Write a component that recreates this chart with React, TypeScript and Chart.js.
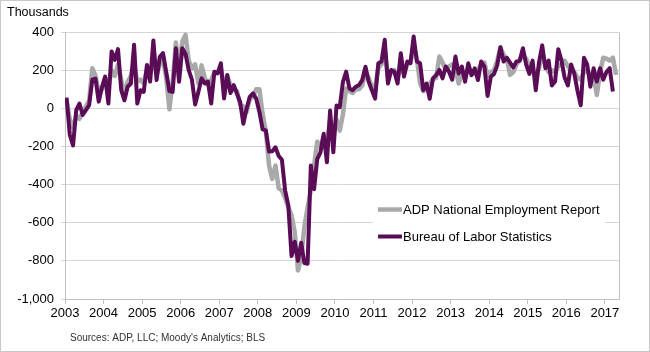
import React, { useEffect, useRef } from "react";
import { Chart, registerables } from "chart.js";

Chart.register(...registerables);

// ---------- data ----------
const yearLabels = ["2003", "2004", "2005", "2006", "2007", "2008", "2009", "2010", "2011", "2012", "2013", "2014", "2015", "2016", "2017"];
const yearTickMonths = [0, 12, 24, 36, 48, 60, 72, 84, 96, 108, 120, 132, 144, 156, 168];

// ADP National Employment Report, monthly change (thousands), Jan 2003 - Apr 2017
const adpValues = [
  40, -60, -100, -40, -55, -20, 10, 40, 210, 170, 80, 100,
  160, 110, 200, 170, 230, 150, 70, 140, 170, 230, 140, 150,
  130, 200, 180, 260, 180, 230, 260, 160, -5, 140, 345, 220,
  350, 385, 250, 210, 230, 130, 225, 160, 120, 150, 190, 190,
  210, 110, 170, 120, 100, 90, 20, 10, -20, 50, 60, 100,
  100, -30, -120, -300, -370, -300, -420, -430, -470, -520, -560, -650,
  -850, -780, -620, -520, -430, -300, -175, -200, -150, -180, -60, -150,
  -60, -117, -30, 104, 90, 80, 100, 100, 120, 190, 160, 110,
  110, 210, 230, 300, 160, 190, 200, 160, 220, 180, 230, 240,
  330, 260, 130, 90, 100, 130, 150, 160, 271, 240, 200, 220,
  230, 210, 130, 180, 170, 200, 190, 180, 200, 230, 240, 170,
  190, 200, 250, 320, 280, 260, 175, 190, 230, 250, 280, 260,
  220, 200, 180, 210, 280, 230, 190, 200, 190, 220, 230, 250,
  220, 200, 190, 160, 150, 190, 200, 170, 170, 70, 190, 265,
  260, 250, 265, 175,
];

// Bureau of Labor Statistics, private payrolls monthly change (thousands), Jan 2003 - Mar 2017
const blsValues = [
  56, -140, -195, -10, 25, -35, -10, 16, 150, 155, 35, 110,
  166, 25, 298, 254, 310, 95, 42, 113, 130, 333, 25, 95,
  86, 227, 140, 356, 148, 270, 289, 190, 90, 86, 315, 139,
  315, 285, 200, 150, 20, 86, 157, 130, 140, 25, 192, 183,
  236, 51, 174, 80, 122, 78, 33, -81, -2, 60, 78, 51,
  -19, -111, -116, -227, -225, -205, -250, -270, -430, -510, -775, -700,
  -800, -705, -812, -815, -300, -425, -266, -231, -134, -283, -12, -231,
  14, 5, 139, 192, 104, 95, 113, 122, 148, 218, 139, 95,
  51, 236, 245, 359, 130, 201, 192, 130, 289, 166, 245, 236,
  377, 245, 236, 95, 130, 50, 157, 174, 201, 157, 219, 192,
  150, 271, 183, 219, 139, 236, 174, 210, 148, 245, 219, 65,
  165, 180, 225, 320, 245, 265, 240, 215, 245, 250, 315, 230,
  180, 250, 95, 240, 330, 210, 250, 120, 140, 310, 250, 160,
  120, 230, 180, 90, 16, 265, 230, 113, 210, 140, 210, 150,
  190, 210, 88,
];

const seriesNames = ["ADP National Employment Report", "Bureau of Labor Statistics"];
const seriesColors = ["#a9a9a9", "#5a0c57"];
const unitLabel = "Thousands";
const sourceNote = "Sources: ADP, LLC; Moody's Analytics; BLS";

const FONT = "'Liberation Sans', Arial, Helvetica, sans-serif";

const decorPlugin = {
  id: "decor",
  afterDraw(chart: any) {
    const { ctx, chartArea } = chart;
    ctx.save();
    // right border of plot area
    ctx.strokeStyle = "#bfbfbf";
    ctx.lineWidth = 1;
    const rx = Math.round(chartArea.right) + 0.5;
    ctx.beginPath();
    ctx.moveTo(rx, Math.round(chartArea.top) + 0.5);
    ctx.lineTo(rx, Math.round(chartArea.bottom) + 0.5);
    ctx.stroke();

    // legend inside plot
    ctx.fillStyle = "#ffffff";
    ctx.fillRect(373, 197, 232, 52);
    ctx.font = `13px ${FONT}`;
    ctx.textBaseline = "middle";
    ctx.textAlign = "left";
    chart.data.datasets.forEach((ds: any, k: number) => {
      const y = 209.5 + k * 27;
      ctx.strokeStyle = ds.borderColor;
      ctx.lineWidth = ds.borderWidth;
      ctx.lineCap = "butt";
      ctx.beginPath();
      ctx.moveTo(378, y);
      ctx.lineTo(402, y);
      ctx.stroke();
      ctx.fillStyle = "#000000";
      ctx.fillText(ds.label, 403, y + 0.5);
    });

    // unit label and source note
    ctx.fillStyle = "#000000";
    ctx.font = `12.5px ${FONT}`;
    ctx.textBaseline = "middle";
    ctx.fillText(unitLabel, 7, 13);
    ctx.fillStyle = "#333333";
    ctx.font = `10px ${FONT}`;
    ctx.fillText(sourceNote, 70, 338);

    // outer frame
    ctx.strokeStyle = "#c8c8c8";
    ctx.lineWidth = 1;
    ctx.strokeRect(0.5, 0.5, chart.width - 1, chart.height - 1);
    ctx.restore();
  },
};

export default function App() {
  const canvasRef = useRef<HTMLCanvasElement | null>(null);

  useEffect(() => {
    const canvas = canvasRef.current;
    if (!canvas) return;
    const chart = new Chart(canvas, {
      type: "line",
      data: {
        datasets: [
          {
            label: seriesNames[0],
            data: adpValues.map((v, i) => ({ x: i + 0.5, y: v })),
            borderColor: seriesColors[0],
            backgroundColor: seriesColors[0],
            borderWidth: 4.5,
            pointRadius: 0,
            tension: 0,
            borderJoinStyle: "round",
            order: 2,
          },
          {
            label: seriesNames[1],
            data: blsValues.map((v, i) => ({ x: i + 0.5, y: v })),
            borderColor: seriesColors[1],
            backgroundColor: seriesColors[1],
            borderWidth: 4,
            pointRadius: 0,
            tension: 0,
            borderJoinStyle: "round",
            order: 1,
          },
        ],
      },
      options: {
        responsive: false,
        animation: false,
        devicePixelRatio: 1,
        layout: { padding: { top: 32, right: 31, left: 0, bottom: 0 } },
        plugins: {
          legend: { display: false },
          tooltip: { enabled: false },
          title: { display: false },
        },
        scales: {
          x: {
            type: "linear",
            min: 0,
            max: 172.4,
            afterBuildTicks: (scale: any) => {
              scale.ticks = yearTickMonths.map((v) => ({ value: v }));
            },
            afterFit: (scale: any) => {
              scale.height = 53;
            },
            grid: {
              drawOnChartArea: false,
              drawTicks: true,
              tickLength: 5,
              color: "#bfbfbf",
            },
            border: { color: "#bfbfbf" },
            ticks: {
              autoSkip: false,
              maxRotation: 0,
              padding: 2,
              color: "#000000",
              font: { family: FONT, size: 13 },
              callback: (_v: any, idx: number) => yearLabels[idx],
            },
          },
          y: {
            min: -1000,
            max: 400,
            afterFit: (scale: any) => {
              scale.width = 65;
            },
            grid: {
              color: "#d4d4d4",
              tickLength: 4,
            },
            border: { color: "#bfbfbf" },
            ticks: {
              stepSize: 200,
              padding: 7,
              color: "#000000",
              font: { family: FONT, size: 13 },
              callback: (v: any) => Number(v).toLocaleString("en-US"),
            },
          },
        },
      },
      plugins: [decorPlugin],
    });
    return () => chart.destroy();
  }, []);

  return (
    <div style={{ position: "absolute", left: 0, top: 0, width: 650, height: 352, background: "#fff" }}>
      <canvas ref={canvasRef} width={650} height={352} style={{ display: "block" }} />
    </div>
  );
}
